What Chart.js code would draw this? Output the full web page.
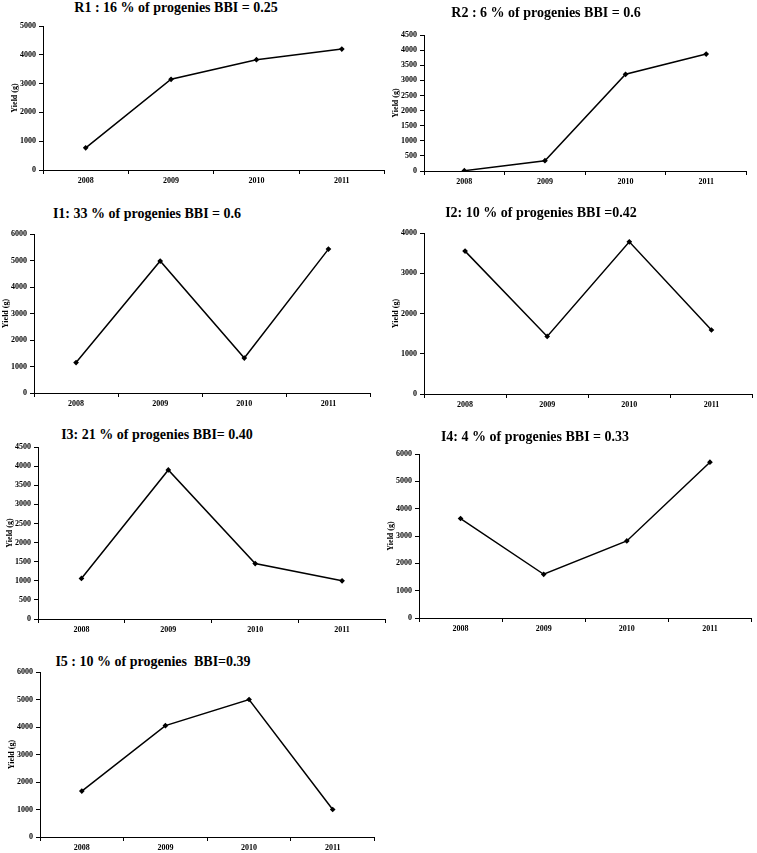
<!DOCTYPE html>
<html>
<head>
<meta charset="utf-8">
<script src="https://cdn.jsdelivr.net/npm/chart.js@4/dist/chart.umd.min.js"></script>
<style>
  html, body { margin:0; padding:0; background:#fff; }
  body { width:757px; height:853px; position:relative; overflow:hidden; }
  canvas { position:absolute; }
  .ttl { position:absolute; width:320px; text-align:center; font:bold 14px "Liberation Serif", "Times New Roman", serif; line-height:14px; color:#000; white-space:pre; }
</style>
</head>
<body>
<script>
// data
var years = ['2008', '2009', '2010', '2011'];
var r1 = [770, 3150, 3830, 4200];
var r2 = [10, 340, 3200, 3870];
var i1 = [1150, 4980, 1320, 5430];
var i2 = [3550, 1430, 3780, 1590];
var i3 = [1060, 3900, 1450, 1000];
var i4 = [3640, 1600, 2820, 5700];
var i5 = [1670, 4050, 5000, 1000];
var titles = [
  'R1 : 16 % of progenies BBI = 0.25',
  'R2 : 6 % of progenies BBI = 0.6',
  'I1: 33 % of progenies BBI = 0.6',
  'I2: 10 % of progenies BBI =0.42',
  'I3: 21 % of progenies BBI= 0.40',
  'I4: 4 % of progenies BBI = 0.33',
  'I5 : 10 % of progenies  BBI=0.39'
];
var yMax = [5000, 4500, 6000, 4000, 4500, 6000, 6000];
var yStep = [1000, 500, 1000, 1000, 500, 1000, 1000];
var series = [r1, r2, i1, i2, i3, i4, i5];

// where each plot area sits on the page
var boxes = [
  {x:43, top:26, right:386, bottom:170, tx:176, ty:9},
  {x:424, top:35, right:748, bottom:171, tx:546, ty:14},
  {x:34, top:234, right:372, bottom:393, tx:147, ty:215},
  {x:424, top:233, right:754, bottom:394, tx:541, ty:214},
  {x:38, top:447, right:387, bottom:619, tx:157, ty:436},
  {x:419, top:454, right:753, bottom:618, tx:535, ty:438},
  {x:40, top:672, right:376, bottom:837, tx:153, ty:663}
];

var tickFont = {family:'Liberation Serif', size:8, weight:'bold'};
var padL = 2, padR = 4, padT = 8, yW = 34, xH = 22;

function makeChart(n) {
  var b = boxes[n];
  var t = document.createElement('div');
  t.className = 'ttl';
  t.textContent = titles[n];
  t.style.left = (b.tx - 160) + 'px';
  t.style.top = (b.ty - 8) + 'px';
  document.body.appendChild(t);

  var c = document.createElement('canvas');
  var w = padL + yW + (b.right - b.x) + padR;
  var h = padT + (b.bottom - b.top) + xH;
  c.width = w; c.height = h;
  c.style.left = (b.x - yW - padL) + 'px';
  c.style.top = (b.top - padT) + 'px';
  c.style.width = w + 'px'; c.style.height = h + 'px';
  document.body.appendChild(c);

  new Chart(c.getContext('2d'), {
    type: 'line',
    data: {
      labels: years,
      datasets: [{
        data: series[n],
        borderColor: '#000',
        borderWidth: 1.5,
        backgroundColor: '#000',
        pointStyle: 'rectRot',
        pointRadius: 1.8,
        pointBackgroundColor: '#000',
        pointBorderColor: '#000',
        tension: 0,
        fill: false
      }]
    },
    options: {
      responsive: false,
      animation: false,
      layout: {padding: {left: padL, right: padR, top: padT, bottom: 0}},
      plugins: {legend: {display: false}, tooltip: {enabled: false}, title: {display: false}},
      scales: {
        x: {
          offset: true,
          grid: {offset: true, drawOnChartArea: false, drawTicks: true, tickLength: 4, color: '#000'},
          border: {display: true, color: '#000', width: 1},
          ticks: {color: '#000', font: tickFont, padding: 2, maxRotation: 0, autoSkip: false},
          afterFit: function(s) { s.height = xH; }
        },
        y: {
          min: 0,
          max: yMax[n],
          grid: {drawOnChartArea: false, drawTicks: true, tickLength: 4, color: '#000'},
          border: {display: true, color: '#000', width: 1},
          ticks: {stepSize: yStep[n], color: '#000', font: tickFont, padding: 3,
                  callback: function(v) { return String(v); }},
          title: {display: true, text: 'Yield (g)', color: '#000', font: tickFont, padding: {top: 1, bottom: 0}},
          afterFit: function(s) { s.width = yW; }
        }
      }
    }
  });
}

for (var k = 0; k < series.length; k++) makeChart(k);
</script>
</body>
</html>
